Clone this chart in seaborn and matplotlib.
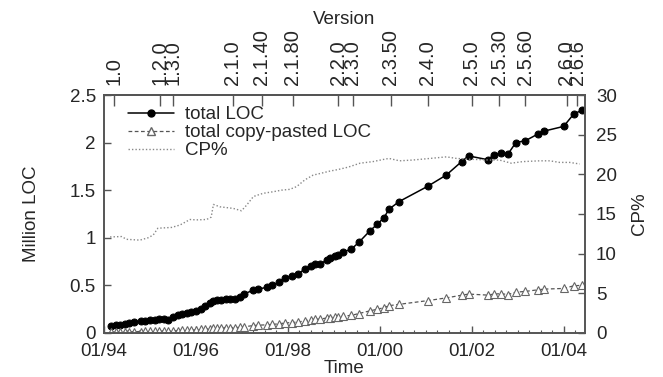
import numpy as np
import pandas as pd
import matplotlib
matplotlib.use("Agg")
import matplotlib.pyplot as plt
from matplotlib.ticker import FuncFormatter, MultipleLocator
from matplotlib.lines import Line2D
import seaborn as sns

# Time in decimal years
loc_time = [1994.15, 1994.25, 1994.35, 1994.45, 1994.55, 1994.65, 1994.8, 1994.9, 1995.0, 1995.1,
            1995.2, 1995.3, 1995.4, 1995.5, 1995.6, 1995.7, 1995.8, 1995.9, 1996.0, 1996.1,
            1996.2, 1996.3, 1996.37, 1996.45, 1996.55, 1996.65, 1996.75, 1996.85, 1996.95, 1997.05,
            1997.25, 1997.35, 1997.55, 1997.65, 1997.8, 1997.93, 1998.08, 1998.22, 1998.37, 1998.5,
            1998.59, 1998.7, 1998.85, 1998.91, 1999.02, 1999.09, 1999.2, 1999.38, 1999.54, 1999.78,
            1999.94, 2000.09, 2000.2, 2000.42, 2001.04, 2001.45, 2001.78, 2001.93, 2002.35, 2002.48,
            2002.64, 2002.79, 2002.96, 2003.17, 2003.44, 2003.57, 2004.0, 2004.22, 2004.4]
total_loc = [0.075, 0.08, 0.085, 0.095, 0.105, 0.115, 0.12, 0.13, 0.135, 0.14,
             0.145, 0.148, 0.138, 0.17, 0.185, 0.195, 0.205, 0.215, 0.23, 0.25,
             0.28, 0.31, 0.33, 0.345, 0.35, 0.355, 0.355, 0.36, 0.38, 0.41,
             0.45, 0.46, 0.48, 0.50, 0.53, 0.58, 0.60, 0.62, 0.67, 0.70,
             0.72, 0.72, 0.77, 0.79, 0.81, 0.82, 0.85, 0.88, 0.95, 1.07,
             1.14, 1.21, 1.30, 1.38, 1.54, 1.66, 1.80, 1.86, 1.82, 1.87,
             1.89, 1.88, 2.00, 2.02, 2.09, 2.12, 2.17, 2.30, 2.34]
copy_pasted = [0.009, 0.010, 0.010, 0.011, 0.012, 0.013, 0.014, 0.016, 0.016, 0.017,
               0.018, 0.019, 0.017, 0.023, 0.025, 0.027, 0.029, 0.031, 0.033, 0.036,
               0.040, 0.044, 0.053, 0.055, 0.056, 0.056, 0.056, 0.056, 0.058, 0.065,
               0.077, 0.081, 0.085, 0.089, 0.095, 0.104, 0.109, 0.114, 0.127, 0.139,
               0.145, 0.145, 0.157, 0.161, 0.166, 0.169, 0.177, 0.184, 0.203, 0.231,
               0.248, 0.265, 0.286, 0.300, 0.339, 0.368, 0.396, 0.408, 0.397, 0.408,
               0.412, 0.403, 0.428, 0.436, 0.453, 0.460, 0.467, 0.495, 0.500]

cp_time = [1994.13, 1994.38, 1994.49, 1994.78, 1994.96, 1995.07, 1995.17, 1995.47, 1995.65, 1995.87,
           1996.01, 1996.23, 1996.33, 1996.38, 1996.52, 1996.81, 1996.99, 1997.1, 1997.25, 1997.46,
           1997.68, 1997.86, 1998.04, 1998.19, 1998.37, 1998.55, 1998.7, 1998.91, 1999.09, 1999.31,
           1999.57, 1999.85, 2000.1, 2000.2, 2000.43, 2000.72, 2001.09, 2001.45, 2001.67, 2001.96,
           2002.39, 2002.6, 2002.86, 2003.11, 2003.48, 2003.7, 2003.91, 2004.13, 2004.35]
cp_pct = [12.1, 12.15, 11.8, 11.7, 12.0, 12.35, 13.2, 13.3, 13.6, 14.3,
          14.25, 14.3, 14.6, 16.2, 15.9, 15.7, 15.4, 16.1, 17.2, 17.6,
          17.8, 18.0, 18.1, 18.45, 19.3, 19.9, 20.1, 20.4, 20.6, 20.9,
          21.4, 21.6, 21.9, 22.0, 21.7, 21.8, 22.0, 22.2, 22.0, 21.9,
          21.8, 21.8, 21.4, 21.6, 21.7, 21.7, 21.5, 21.5, 21.3]

version_time = [1994.21, 1995.22, 1995.5, 1996.8, 1997.43, 1998.1, 1999.1, 1999.41,
                2000.24, 2001.04, 2002.0, 2002.6, 2003.17, 2004.07, 2004.3]
version_labels = ["1.0", "1.2.0", "1.3.0", "2.1.0", "2.1.40", "2.1.80", "2.2.0", "2.3.0",
                  "2.3.50", "2.4.0", "2.5.0", "2.5.30", "2.5.60", "2.6.0", "2.6.6"]

year_ticks = [1994, 1996, 1998, 2000, 2002, 2004]
year_labels = ["01/94", "01/96", "01/98", "01/00", "01/02", "01/04"]

loc_df = pd.DataFrame({"time": loc_time, "loc": total_loc, "cp": copy_pasted})
cp_df = pd.DataFrame({"time": cp_time, "pct": cp_pct})

sns.set_style("ticks")
plt.rcParams['font.family'] = ['Liberation Sans', 'DejaVu Sans']
plt.rcParams['font.size'] = 13.5

fig = plt.figure(figsize=(6.63, 3.77), dpi=100)
ax = fig.add_axes([0.157, 0.117, 0.725, 0.631])
ax2 = ax.twinx()

sns.lineplot(data=loc_df, x="time", y="loc", ax=ax, color="black", linewidth=1.1,
             marker="o", markersize=5, markeredgecolor="black", sort=False, legend=False)
sns.lineplot(data=loc_df, x="time", y="cp", ax=ax, color="#555555", linewidth=0.9,
             linestyle=(0, (3, 2)), marker="^", markersize=6, markerfacecolor="white",
             markeredgecolor="#666666", markeredgewidth=0.8, sort=False, legend=False)
sns.lineplot(data=cp_df, x="time", y="pct", ax=ax2, color="#888888", linewidth=1.0,
             linestyle=(0, (1, 1.5)), sort=False, legend=False)

ax.set_xlim(1994.0, 2004.46)
ax.set_ylim(0, 2.5)
ax2.set_ylim(0, 30)

ax.set_xticks(year_ticks)
ax.set_xticklabels(year_labels)
ax.xaxis.set_minor_locator(MultipleLocator(0.25))
ax.yaxis.set_major_locator(MultipleLocator(0.5))
ax.yaxis.set_major_formatter(FuncFormatter(lambda v, p: "%g" % v))
ax2.yaxis.set_major_locator(MultipleLocator(5))

ax.set_xlabel("Time", labelpad=0)
ax.set_ylabel("Million LOC", labelpad=21)
ax2.set_ylabel("CP%", labelpad=10)

for a in (ax, ax2):
    for s in a.spines.values():
        s.set_color("#555555")
        s.set_linewidth(1.2)
ax.tick_params(axis="both", which="major", direction="in", length=5, width=1, color="#555555")
ax.tick_params(axis="x", which="major", pad=7)
ax.tick_params(axis="y", which="major", pad=6)
ax.tick_params(axis="x", which="minor", direction="in", length=2.5, width=0.8, color="#555555")
ax.tick_params(axis="x", which="both", top=False)
ax2.tick_params(axis="y", direction="in", length=5, width=1, color="#555555", pad=8)

top = ax.secondary_xaxis("top")
top.set_xticks(version_time)
top.set_xticklabels(version_labels, rotation=90, fontsize=14.5)
top.tick_params(direction="in", length=8, width=1, color="#555555", pad=7)
top.set_xlabel("Version", labelpad=4)
for s in top.spines.values():
    s.set_color("#555555")
    s.set_linewidth(1.2)

handles = [
    Line2D([], [], color="black", linewidth=1.1, marker="o", markersize=5),
    Line2D([], [], color="#555555", linewidth=0.9, linestyle=(0, (3, 2)), marker="^",
           markersize=6, markerfacecolor="white", markeredgecolor="#666666"),
    Line2D([], [], color="#888888", linewidth=1.0, linestyle=(0, (1, 1.5))),
]
ax.legend(handles, ["total LOC", "total copy-pasted LOC", "CP%"], loc="upper left",
          bbox_to_anchor=(0.035, 0.985), frameon=False, handlelength=2.45,
          handletextpad=0.55, labelspacing=0.05, borderaxespad=0, numpoints=1)

fig.savefig("out.png", dpi=100)
